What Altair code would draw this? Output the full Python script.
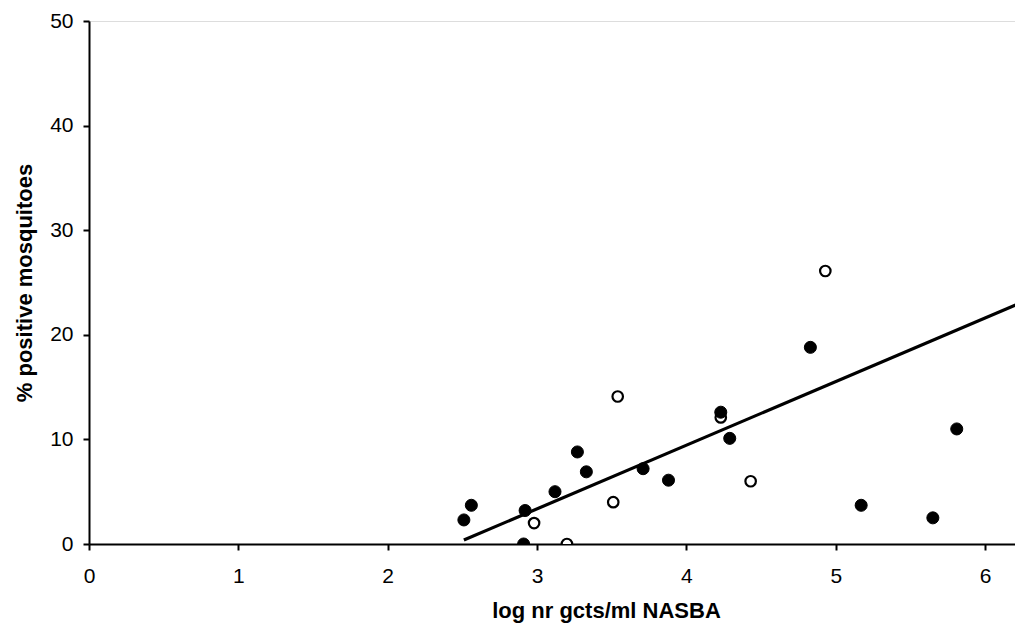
import altair as alt
import pandas as pd

filled_x = [2.51, 2.56, 2.92, 2.91, 3.12, 3.27, 3.33, 3.71, 3.88, 4.23, 4.29, 4.83, 5.17, 5.65, 5.81, 6.28]
filled_y = [2.3, 3.7, 3.2, 0.0, 5.0, 8.8, 6.9, 7.2, 6.1, 12.6, 10.1, 18.8, 3.7, 2.5, 11.0, 47.5]
open_x = [2.98, 3.20, 3.51, 3.54, 4.23, 4.43, 4.93]
open_y = [2.0, 0.0, 4.0, 14.1, 12.1, 6.0, 26.1]
fit_x = [2.51, 6.26]
fit_y = [0.38, 23.2]

FONT = "Liberation Sans"

df_f = pd.DataFrame({"x": filled_x, "y": filled_y})
df_o = pd.DataFrame({"x": open_x, "y": open_y})
df_l = pd.DataFrame({"x": fit_x, "y": fit_y})

xs = alt.Scale(domain=[0, 6.2], nice=False, zero=False)
ys = alt.Scale(domain=[0, 50], nice=False)

xaxis = alt.Axis(title="log nr gcts/ml NASBA", values=[0, 1, 2, 3, 4, 5, 6], format="d",
                 grid=False, domainColor="black", domainWidth=2, tickColor="black",
                 tickWidth=2, tickSize=6, labelFont=FONT, labelFontSize=21,
                 labelColor="black", labelPadding=15, labelFlush=False,
                 titleFont=FONT, titleFontSize=22, titleX=517,
                 titleFontWeight="bold", titleColor="black", titlePadding=14)
yaxis = alt.Axis(title="% positive mosquitoes", values=[0, 10, 20, 30, 40, 50], format="d",
                 grid=False, domainColor="black", domainWidth=2, tickColor="black",
                 tickWidth=2, tickSize=6, labelFont=FONT, labelFontSize=21,
                 labelColor="black", labelPadding=10, labelFlush=False,
                 titleFont=FONT, titleFontSize=22,
                 titleFontWeight="bold", titleColor="black", titlePadding=13)

open_pts = alt.Chart(df_o).mark_point(shape="circle", filled=True, fill="white",
                                      stroke="black", strokeWidth=2.2, size=110,
                                      opacity=1, clip=True).encode(
    x=alt.X("x:Q", scale=xs, axis=xaxis),
    y=alt.Y("y:Q", scale=ys, axis=yaxis),
)
filled_pts = alt.Chart(df_f).mark_point(shape="circle", filled=True, fill="black",
                                        stroke="black", strokeWidth=1, size=145,
                                        opacity=1, clip=True).encode(
    x=alt.X("x:Q", scale=xs),
    y=alt.Y("y:Q", scale=ys),
)
fit = alt.Chart(df_l).mark_line(color="black", strokeWidth=3.2, clip=True).encode(
    x=alt.X("x:Q", scale=xs),
    y=alt.Y("y:Q", scale=ys),
)

chart = alt.layer(open_pts, filled_pts, fit).properties(
    width=926, height=523,
    autosize=alt.AutoSizeParams(type="none"),
    padding={"left": 81, "top": 13, "right": 0, "bottom": 80},
).configure_view(stroke=None).configure(background="white")

chart.save("out.html", embed_options={"renderer": "svg", "actions": False})
